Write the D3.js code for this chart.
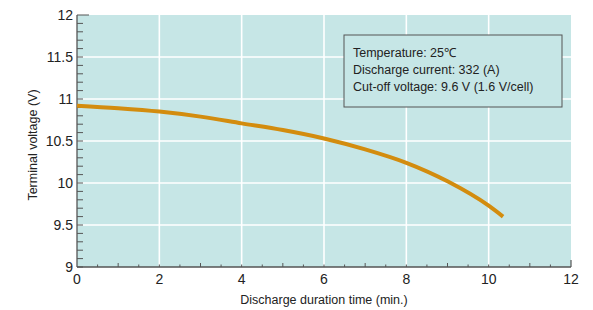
<!DOCTYPE html>
<html>
<head>
<meta charset="utf-8">
<script src="https://cdn.jsdelivr.net/npm/d3@7"></script>
<style>
  body { margin: 0; background: #fff; }
  svg { font-family: "Liberation Sans", Arial, Helvetica, sans-serif; }
</style>
</head>
<body>
<svg id="chart"></svg>
<script>
// discharge curve (min, V)
const timeMin = [0, 1, 2, 3, 4, 5, 6, 7, 8, 9, 10, 10.35]
const voltage = [10.92, 10.89, 10.85, 10.79, 10.71, 10.63, 10.53, 10.40, 10.24, 10.02, 9.73, 9.6]
const xTicks = [0, 2, 4, 6, 8, 10, 12]
const yTicks = [9, 9.5, 10, 10.5, 11, 11.5, 12]
const legendLines = ["Temperature: 25\u2103", "Discharge current: 332 (A)", "Cut-off voltage: 9.6 V (1.6 V/cell)"]

const W = 593, H = 310
const margin = {top: 15, right: 22, bottom: 43, left: 77}
const width = W - margin.left - margin.right
const height = H - margin.top - margin.bottom

const svg = d3.select("#chart").attr("width", W).attr("height", H)
const g = svg.append("g").attr("transform", `translate(${margin.left},${margin.top})`)

const x = d3.scaleLinear().domain([0, 12]).range([0, width])
const y = d3.scaleLinear().domain([9, 12]).range([height, 0])

// background
g.append("rect").attr("width", width).attr("height", height).attr("fill", "#c6e6e6")

// grid
g.selectAll(".vgrid").data(xTicks.slice(1, -1)).join("line")
    .attr("x1", d => x(d)).attr("x2", d => x(d))
    .attr("y1", 0).attr("y2", height)
    .attr("stroke", "#fff").attr("stroke-width", 1.6)
g.selectAll(".hgrid").data(yTicks.slice(1, -1)).join("line")
    .attr("y1", d => y(d)).attr("y2", d => y(d))
    .attr("x1", 0).attr("x2", width)
    .attr("stroke", "#fff").attr("stroke-width", 1.6)

// minor ticks
const axisColor = "#555"
const yMinor = d3.range(90, 121).map(d => d / 10)
g.selectAll(".ytick").data(yMinor).join("line")
    .attr("x1", 0).attr("x2", d => Math.abs(d - 12) < 0.01 ? 12 : 6)
    .attr("y1", d => y(d)).attr("y2", d => y(d))
    .attr("stroke", axisColor).attr("stroke-width", 1)
const xMinor = d3.range(1, 24).map(d => d / 2)
g.selectAll(".xtick").data(xMinor).join("line")
    .attr("x1", d => x(d)).attr("x2", d => x(d))
    .attr("y1", height).attr("y2", d => d % 1 === 0 && d % 2 === 1 ? height - 4 : height - 2.5)
    .attr("stroke", axisColor).attr("stroke-width", 1)
g.append("line").attr("x1", x(12)).attr("x2", x(12)).attr("y1", height).attr("y2", height - 7)
    .attr("stroke", axisColor).attr("stroke-width", 1.2)

// axis lines
g.append("line").attr("x1", 0).attr("x2", 0).attr("y1", 0).attr("y2", height)
    .attr("stroke", axisColor).attr("stroke-width", 1.3)
g.append("line").attr("x1", 0).attr("x2", width).attr("y1", height).attr("y2", height)
    .attr("stroke", axisColor).attr("stroke-width", 1.3)

// tick labels
g.selectAll(".ylab").data(yTicks).join("text")
    .attr("x", -4).attr("y", d => y(d)).attr("dy", "0.35em")
    .attr("text-anchor", "end").attr("font-size", 14).attr("fill", "#222")
    .text(d => d)
g.selectAll(".xlab").data(xTicks).join("text")
    .attr("x", d => x(d)).attr("y", height + 17)
    .attr("text-anchor", "middle").attr("font-size", 14).attr("fill", "#222")
    .text(d => d)

// axis titles
svg.append("text")
    .attr("transform", `translate(37,${margin.top + height / 2 + 4}) rotate(-90)`)
    .attr("text-anchor", "middle").attr("font-size", 12.5).attr("fill", "#222")
    .text("Terminal voltage (V)")
svg.append("text")
    .attr("x", margin.left + width / 2).attr("y", 304)
    .attr("text-anchor", "middle").attr("font-size", 12.5).attr("fill", "#222")
    .text("Discharge duration time (min.)")

// curve
const pts = timeMin.map((t, i) => [t, voltage[i]])
const line = d3.line().x(d => x(d[0])).y(d => y(d[1])).curve(d3.curveMonotoneX)
g.append("path").datum(pts).attr("d", line)
    .attr("fill", "none").attr("stroke", "#d38c0e").attr("stroke-width", 4)
    .attr("stroke-linecap", "butt")

// legend box
const legend = svg.append("g").attr("transform", "translate(344,35)")
legend.append("rect").attr("width", 218).attr("height", 72)
    .attr("fill", "#c6e6e6").attr("stroke", "#555").attr("stroke-width", 1)
legend.selectAll("text").data(legendLines).join("text")
    .attr("x", 9).attr("y", (d, i) => 22 + i * 17)
    .attr("font-size", 12.5).attr("fill", "#222")
    .text(d => d)
</script>
</body>
</html>
